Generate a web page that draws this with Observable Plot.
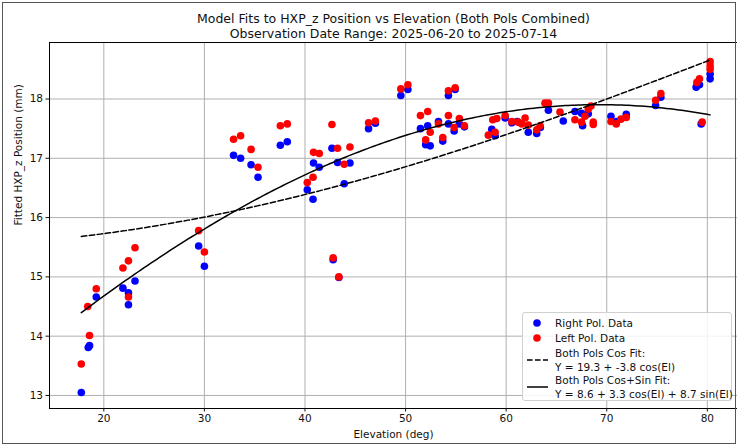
<!DOCTYPE html>
<html>
<head>
<meta charset="utf-8">
<script src="https://cdn.jsdelivr.net/npm/d3@7"></script>
<script src="https://cdn.jsdelivr.net/npm/@observablehq/plot@0.6"></script>
<style>
  html, body { margin: 0; padding: 0; background: #fff; }
  body { width: 737px; height: 445px; overflow: hidden; font-family: "DejaVu Sans", sans-serif; }
  #wrap { position: relative; width: 737px; height: 445px; }
  #edge { position: absolute; left: 2px; top: 2px; right: 1px; bottom: 1px; border: 1.5px solid #555; pointer-events: none; }
  #legend {
    position: absolute; left: 522px; top: 312px; width: 210px; height: 89px;
    background: rgba(255,255,255,0.85); border: 1px solid #d0d0d0; border-radius: 3px;
    font-size: 10.5px; color: #111; box-sizing: border-box;
  }
  .row { position: absolute; left: 0; display: flex; align-items: center; }
  .sym { width: 32px; height: 12px; flex: none; }
  .lab { line-height: 14px; white-space: nowrap; }
</style>
</head>
<body>
<div id="wrap">
  <div id="chart"></div>
  <div id="legend"></div>
  <div id="edge"></div>
</div>
<script>
// Right polarisation: elevation (deg) and fitted HXP_z (mm)
const rightEl = [17.76, 18.45, 18.58, 19.25, 21.9, 22.45, 22.45, 23.1, 29.43, 30.0,
  32.9, 33.6, 34.64, 35.33, 37.55, 38.24, 40.23, 40.8, 40.85, 41.42,
  42.68, 42.8, 43.24, 43.37, 43.9, 44.47, 46.32, 47.0, 49.53, 50.23,
  51.48, 52.0, 52.2, 52.45, 53.27, 53.7, 54.26, 54.26, 54.83, 54.93,
  55.35, 55.85, 58.57, 58.9, 59.9, 60.56, 61.1, 62.2, 63.04, 63.4,
  64.2, 65.68, 66.84, 67.5, 67.6, 68.16, 70.42, 70.95, 71.94, 74.86,
  75.38, 78.89, 79.22, 79.39, 80.28, 80.28];
const rightZ = [13.05, 13.81, 13.84, 14.66, 14.81, 14.73, 14.53, 14.93, 15.52, 15.18,
  17.05, 17.00, 16.89, 16.68, 17.22, 17.28, 16.47, 16.31, 16.92, 16.85,
  17.17, 15.29, 16.93, 14.99, 16.57, 16.92, 17.50, 17.59, 18.06, 18.16,
  17.50, 17.23, 17.55, 17.21, 17.62, 17.29, 18.06, 17.58, 17.46, 18.16,
  17.58, 17.53, 17.49, 17.38, 17.68, 17.60, 17.62, 17.44, 17.42, 17.52,
  17.81, 17.63, 17.79, 17.76, 17.55, 17.75, 17.71, 17.62, 17.74, 17.89,
  18.03, 18.20, 18.24, 17.58, 18.42, 18.34];

// Left polarisation
const leftEl = [17.76, 18.58, 18.4, 19.25, 21.9, 22.45, 22.45, 23.1, 29.43, 30.0,
  32.9, 33.6, 34.64, 35.33, 37.55, 38.24, 40.23, 40.8, 40.85, 41.42,
  42.68, 42.8, 43.24, 43.37, 43.9, 44.47, 46.32, 47.0, 49.53, 50.23,
  51.48, 52.0, 52.2, 52.45, 53.27, 53.7, 54.26, 54.26, 54.83, 54.93,
  55.35, 55.85, 58.23, 58.67, 58.9, 59.07, 59.9, 60.56, 61.2, 61.55,
  61.88, 62.2, 63.04, 63.37, 63.86, 64.2, 65.35, 66.84, 67.5, 67.83,
  68.16, 68.43, 68.66, 68.66, 70.42, 70.95, 71.41, 71.94, 74.86, 75.38,
  78.96, 79.22, 79.49, 80.28, 80.28, 80.28];
const leftZ = [13.53, 14.01, 14.50, 14.80, 15.15, 15.27, 14.66, 15.49, 15.78, 15.42,
  17.32, 17.38, 17.15, 16.85, 17.55, 17.58, 16.59, 16.68, 17.10, 17.08,
  17.57, 15.32, 17.17, 15.00, 16.90, 17.19, 17.60, 17.63, 18.17, 18.24,
  17.72, 17.31, 17.79, 17.44, 17.58, 17.35, 18.14, 17.72, 17.52, 18.19,
  17.67, 17.55, 17.39, 17.65, 17.44, 17.67, 17.72, 17.62, 17.61, 17.58,
  17.68, 17.56, 17.48, 17.55, 17.93, 17.93, 17.78, 17.65, 17.61, 17.71,
  17.83, 17.88, 17.61, 17.57, 17.62, 17.58, 17.66, 17.69, 17.98, 18.09,
  18.28, 18.34, 17.61, 18.63, 18.56, 18.50];

// Fit coefficients as printed in the legend
const cosFit = {a: 19.3, b: -3.8};
const cosSinFit = {a: 8.6, b: 3.3, c: 8.7};

const xTicks = [20, 30, 40, 50, 60, 70, 80];
const yTicks = [13, 14, 15, 16, 17, 18];

const titleLines = [
  "Model Fits to HXP_z Position vs Elevation (Both Pols Combined)",
  "Observation Date Range: 2025-06-20 to 2025-07-14"
];
const legendLabels = [
  ["Right Pol. Data"],
  ["Left Pol. Data"],
  ["Both Pols Cos Fit:", `Y = ${cosFit.a} + ${cosFit.b} cos(El)`],
  ["Both Pols Cos+Sin Fit:", `Y = ${cosSinFit.a} + ${cosSinFit.b} cos(El) + ${cosSinFit.c} sin(El)`]
];

const right = rightEl.map((el, i) => ({el, z: rightZ[i]}));
const left = leftEl.map((el, i) => ({el, z: leftZ[i]}));

// Model curves evaluated across the observed elevation span
const rad = Math.PI / 180;
const allEl = rightEl.concat(leftEl);
const elMin = d3.min(allEl), elMax = d3.max(allEl);
const curveEl = d3.range(0, 201).map(i => elMin + (elMax - elMin) * i / 200);
const cosCurve = curveEl.map(el => ({el, z: cosFit.a + cosFit.b * Math.cos(el * rad)}));
const cosSinCurve = curveEl.map(el => ({el, z: cosSinFit.a + cosSinFit.b * Math.cos(el * rad) + cosSinFit.c * Math.sin(el * rad)}));

const dotR = 3.8;

const chart = Plot.plot({
  width: 737,
  height: 445,
  marginLeft: 49,
  marginRight: 0,
  marginTop: 42,
  marginBottom: 37,
  style: {fontFamily: "DejaVu Sans, sans-serif", fontSize: "10.5px", color: "#111", background: "transparent"},
  x: {domain: [14.6, 83.0]},
  y: {domain: [12.78, 18.953]},
  marks: [
    Plot.gridX(xTicks, {stroke: "#b0b0b0", strokeOpacity: 1, strokeWidth: 1}),
    Plot.gridY(yTicks, {stroke: "#b0b0b0", strokeOpacity: 1, strokeWidth: 1}),
    Plot.dot(right, {x: "el", y: "z", r: dotR, fill: "#0000ff", stroke: null}),
    Plot.dot(left, {x: "el", y: "z", r: dotR, fill: "#ff0000", stroke: null}),
    Plot.line(cosCurve, {x: "el", y: "z", stroke: "#000", strokeWidth: 1.5, strokeDasharray: "5.5,2.5"}),
    Plot.line(cosSinCurve, {x: "el", y: "z", stroke: "#000", strokeWidth: 1.5}),
    Plot.frame({stroke: "#000", strokeWidth: 1}),
    Plot.axisX(xTicks, {tickSize: 3.5, tickPadding: 3, label: null, tickFormat: d => d}),
    Plot.axisY(yTicks, {tickSize: 3.5, tickPadding: 3, label: null, tickFormat: d => d}),
    Plot.text(["Elevation (deg)"], {frameAnchor: "bottom", dy: 26, lineAnchor: "middle", fontSize: 10.5}),
    Plot.text(["Fitted HXP_z Position (mm)"], {frameAnchor: "left", dx: -31, rotate: -90, lineAnchor: "middle", fontSize: 10.5}),
    Plot.text([titleLines[0]], {frameAnchor: "top", dy: -24, lineAnchor: "middle", fontSize: 12.5}),
    Plot.text([titleLines[1]], {frameAnchor: "top", dy: -9, lineAnchor: "middle", fontSize: 12.5})
  ]
});
document.getElementById("chart").appendChild(chart);

// Legend
const legend = document.getElementById("legend");
const rowTops = [3, 18, 33, 60];
const symbols = [
  `<svg class="sym" viewBox="0 0 32 12"><circle cx="14" cy="6" r="${dotR}" fill="#0000ff"/></svg>`,
  `<svg class="sym" viewBox="0 0 32 12"><circle cx="14" cy="6" r="${dotR}" fill="#ff0000"/></svg>`,
  '<svg class="sym" viewBox="0 0 32 12"><line x1="4" y1="6" x2="25" y2="6" stroke="#000" stroke-width="1.5" stroke-dasharray="5.5,2.5"/></svg>',
  '<svg class="sym" viewBox="0 0 32 12"><line x1="4" y1="6" x2="25" y2="6" stroke="#000" stroke-width="1.5"/></svg>'
];
legendLabels.forEach((lines, i) => {
  const row = document.createElement("div");
  row.className = "row";
  row.style.top = rowTops[i] + "px";
  row.innerHTML = symbols[i] + '<div class="lab">' + lines.join("<br>") + "</div>";
  legend.appendChild(row);
});
</script>
</body>
</html>
